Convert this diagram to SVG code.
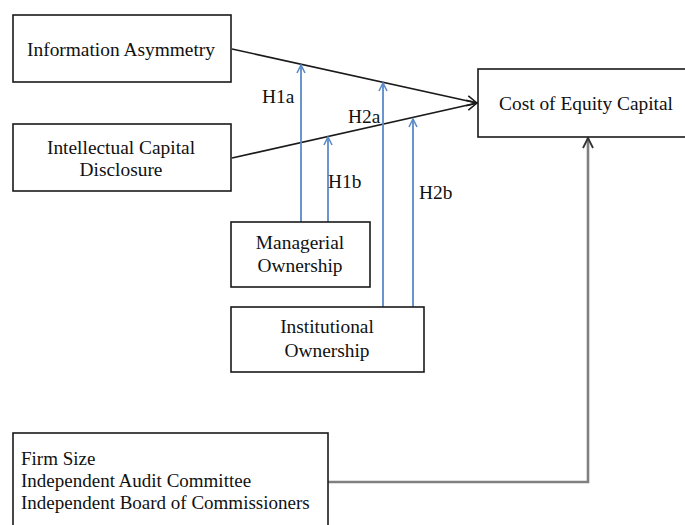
<svg xmlns="http://www.w3.org/2000/svg" width="685" height="525" viewBox="0 0 685 525">
<style>
.box{fill:#fff;stroke:#1a1a1a;stroke-width:1.6}
.t{font-family:"Liberation Serif","Times New Roman",serif;font-size:19.4px;fill:#111}
.s{font-size:19px}
.c{text-anchor:middle}
.blk{stroke:#1a1a1a;stroke-width:1.6;fill:none}
.blu{stroke:#5b8bc8;stroke-width:1.8;fill:none}
.gry{stroke:#808080;stroke-width:2.6;fill:none}
</style>
<defs>
<marker id="ab" markerUnits="userSpaceOnUse" markerWidth="14" markerHeight="12" refX="11" refY="6" orient="auto">
<path d="M1,1 L11,6 L1,11" fill="none" stroke="#1a1a1a" stroke-width="1.6"/>
</marker>
<marker id="au" markerUnits="userSpaceOnUse" markerWidth="12" markerHeight="12" refX="9" refY="5" orient="auto">
<path d="M1,1 L9,5 L1,9" fill="none" stroke="#5b8bc8" stroke-width="1.6"/>
</marker>
<marker id="ag" markerUnits="userSpaceOnUse" markerWidth="14" markerHeight="12" refX="11" refY="6" orient="auto">
<path d="M1,1 L11,6 L1,11" fill="none" stroke="#333" stroke-width="1.8"/>
</marker>
</defs>
<g id="connectors">
<line class="blk" x1="232" y1="49" x2="477" y2="103" marker-end="url(#ab)"/>
<line class="blk" x1="232" y1="158" x2="477" y2="103" marker-end="url(#ab)"/>
<line class="blu" x1="301" y1="222" x2="301" y2="65" marker-end="url(#au)"/>
<line class="blu" x1="328" y1="222" x2="328" y2="137" marker-end="url(#au)"/>
<line class="blu" x1="383" y1="307" x2="383" y2="83" marker-end="url(#au)"/>
<line class="blu" x1="413" y1="307" x2="413" y2="119" marker-end="url(#au)"/>
<polyline class="gry" points="328,482 588,482 588,138" marker-end="url(#ag)"/>
<text class="t" x="262" y="103">H1a</text>
<text class="t" x="348" y="123">H2a</text>
<text class="t" x="328" y="188">H1b</text>
<text class="t" x="419" y="199">H2b</text>
</g>
<g id="information-asymmetry">
<rect class="box" x="13" y="15" width="218" height="67"/>
<text class="t c" x="121" y="56">Information Asymmetry</text>
</g>
<g id="intellectual-capital-disclosure">
<rect class="box" x="13" y="124" width="218" height="67"/>
<text class="t c" x="121" y="154">Intellectual Capital</text>
<text class="t c" x="121" y="176">Disclosure</text>
</g>
<g id="cost-of-equity-capital">
<rect class="box" x="478" y="69" width="220" height="68"/>
<text class="t c" x="586" y="110">Cost of Equity Capital</text>
</g>
<g id="managerial-ownership">
<rect class="box" x="231" y="222" width="139" height="65"/>
<text class="t c" x="300" y="249">Managerial</text>
<text class="t c" x="300" y="272">Ownership</text>
</g>
<g id="institutional-ownership">
<rect class="box" x="231" y="307" width="193" height="65"/>
<text class="t c" x="327" y="333">Institutional</text>
<text class="t c" x="327" y="357">Ownership</text>
</g>
<g id="controls">
<rect class="box" x="13" y="433" width="315" height="100"/>
<text class="t s" x="21" y="465">Firm Size</text>
<text class="t s" x="21" y="487">Independent Audit Committee</text>
<text class="t s" x="21" y="509">Independent Board  of Commissioners</text>
</g>
</svg>
